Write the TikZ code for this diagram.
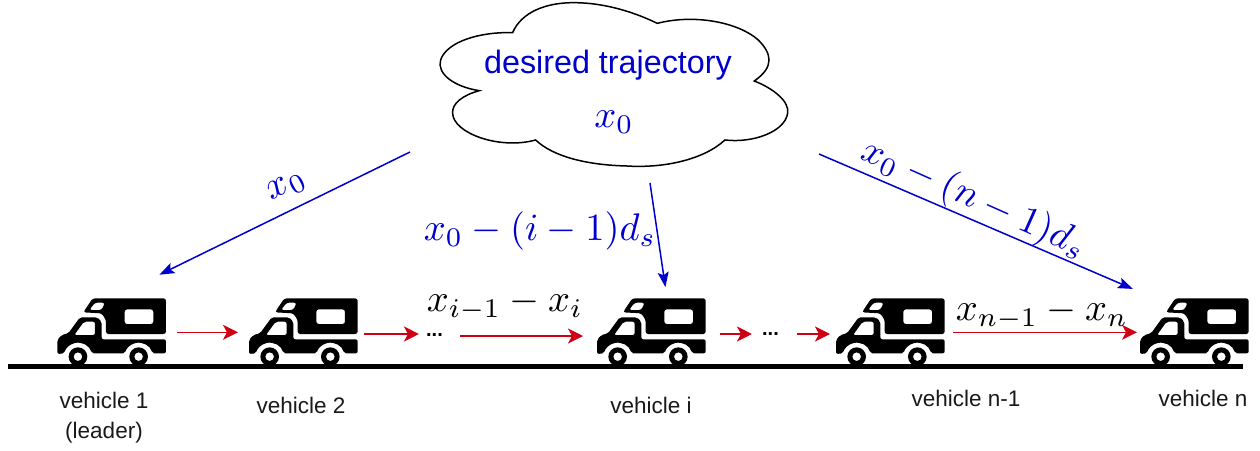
\documentclass[tikz,border=0pt]{standalone}
\usepackage{fontspec}
\setmainfont{Liberation Sans}
\usetikzlibrary{arrows.meta,calc}
\definecolor{dblue}{RGB}{0,0,205}
\definecolor{dred}{RGB}{205,0,20}
\tikzset{
  vanbox/.style={minimum width=109pt,minimum height=67pt,inner sep=0pt,outer sep=0pt,anchor=south west},
  redarrow/.style={draw=dred,line width=1.6pt,-{Stealth[length=15pt,width=15pt,inset=4pt]}},
  bluearrow/.style={draw=dblue,line width=1.5pt,-{Stealth[length=15pt,width=11pt,inset=3pt]}},
  cloudline/.style={draw=black,line width=1.5pt,fill=white},
  mathlabel/.style={scale=3.85,inner sep=0pt},
  bluemath/.style={mathlabel,text=dblue},
  vlabel/.style={font=\fontsize{22.5}{30}\selectfont,align=center,inner sep=0pt,text=black!90},
  dotslabel/.style={font=\fontsize{20}{20}\selectfont\bfseries,inner sep=0pt},
  van/.pic={
    \begin{scope}[x=0.3333pt,y=-0.3333pt,shift={(-52,-255)}]
      \fill[black,even odd rule,rounded corners=2.5pt]
        (158,55) -- (378,55) -- (378,162) -- (198,162) -- (198,120) -- (185,100) -- (130,97) -- cycle
        (148,90) -- (165,68) -- (195,68) -- (185,90) -- cycle
        (254,88) rectangle (340,132);
      \fill[black,even odd rule,rounded corners=2pt]
        (120,112) -- (172,112) -- (185,125) -- (185,178) -- (378,178) -- (378,220) -- (337,220)
        arc[start angle=-14,end angle=-166,radius=42.2] -- (155,220)
        arc[start angle=-14,end angle=-166,radius=42.2] -- (52,222) -- (52,180) -- (65,165) -- (85,160) -- cycle
        (103,165) -- (132,125) -- (165,125) -- (165,165) -- cycle;
      \fill[black,even odd rule] (114,230) circle[radius=28] (114,230) circle[radius=13];
      \fill[black,even odd rule] (296,230) circle[radius=28] (296,230) circle[radius=13];
    \end{scope}
  }
}
\begin{document}
\begin{tikzpicture}[x=1pt,y=-1pt]
  \useasboundingbox[fill=white] (0,0) rectangle (1260,450);

  % road
  \draw[line width=5pt] (8,366.3) coordinate (roadL) -- (1243,366.3) coordinate (roadR);

  % vehicles
  \foreach \n/\xx in {v1/57.3,v2/249,vi/597,vm/836,vn/1140}{
    \node[vanbox] (\n) at (\xx,365) {};
    \pic at (\n.south west) {van};
  }

  % cloud
  \begin{scope}[x=0.3333pt,y=-0.3333pt,shift={(1260,0)}]
    \path[cloudline]
      (278,98)
      .. controls (305,35) and (380,8) .. (460,8)
      .. controls (560,8) and (650,40) .. (712,70)
      .. controls (830,40) and (960,70) .. (1015,120)
      .. controls (1055,160) and (1065,200) .. (1003,243)
      .. controls (1060,265) and (1110,305) .. (1103,340)
      .. controls (1095,395) and (1000,430) .. (915,420)
      .. controls (850,480) and (730,505) .. (620,498)
      .. controls (500,495) and (400,470) .. (347,420)
      .. controls (240,450) and (100,400) .. (98,340)
      .. controls (95,310) and (130,285) .. (178,272)
      .. controls (100,260) and (50,220) .. (62,180)
      .. controls (80,125) and (180,95) .. (278,98)
      -- cycle;
  \end{scope}
  \node[font=\fontsize{32.3}{36}\selectfont,text=dblue,inner sep=0pt] (title) at (608,65) {desired trajectory};
  \node[bluemath] (cx) at (614,122) {$x_0$};

  % start points under the cloud
  \coordinate (c1) at (410,152);
  \coordinate (c2) at (650,183);
  \coordinate (c3) at (819,154);

  % blue connectors
  \draw[bluearrow,shorten >=53pt] (c1) -- (v1.north);
  \draw[bluearrow,shorten >=11pt] (c2) -- ($(vi.north)+(15.5,0)$);
  \draw[bluearrow,shorten >=23pt] (c3) -- ($(vn.north west)+(14,0)$);

  \node[bluemath,rotate=27] (l1) at (287,187) {$x_0$};
  \node[bluemath] (l2) at (540,231) {$x_0-(i-1)d_s$};
  \node[bluemath,rotate=-24] (l3) at (974,199) {$x_0-(n-1)d_s$};

  % dots
  \node[dotslabel] (d1) at (434.5,335.5) {...};
  \node[dotslabel] (d2) at (770.5,334.5) {...};

  % red connectors
  \draw[redarrow,shorten <=11pt,shorten >=11pt] ($(v1.east)+(0,.8)$) -- ($(v2.west)+(0,.8)$);
  \draw[redarrow,shorten <=6pt,shorten >=7pt] ($(v2.east)+(0,2.5)$) -- (d1.west |- 0,334);
  \draw[redarrow,shorten <=17pt,shorten >=14pt] (d1.east |- 0,336) -- ($(vi.west)+(0,4.5)$);
  \draw[redarrow,shorten <=14pt,shorten >=10pt] ($(vi.east)+(0,2.5)$) -- (d2.west |- 0,334);
  \draw[redarrow,shorten <=18pt,shorten >=6pt] (d2.east |- 0,334) -- ($(vm.west)+(0,2.5)$);
  \draw[redarrow,shorten <=8pt,shorten >=3pt] ($(vm.east)+(0,.8)$) -- ($(vn.west)+(0,.8)$);

  \node[mathlabel] (e1) at (505,305) {$x_{i-1}-x_i$};
  \node[mathlabel] (e2) at (1042,314) {$x_{n-1}-x_n$};

  % vehicle labels
  \node[vlabel] (t1) at (104,418) {vehicle 1\\(leader)};
  \node[vlabel] (t2) at (301,405) {vehicle 2};
  \node[vlabel] (ti) at (651,405) {vehicle i};
  \node[vlabel] (tm) at (966,398) {vehicle n-1};
  \node[vlabel] (tn) at (1203,398) {vehicle n};
\end{tikzpicture}
\end{document}
